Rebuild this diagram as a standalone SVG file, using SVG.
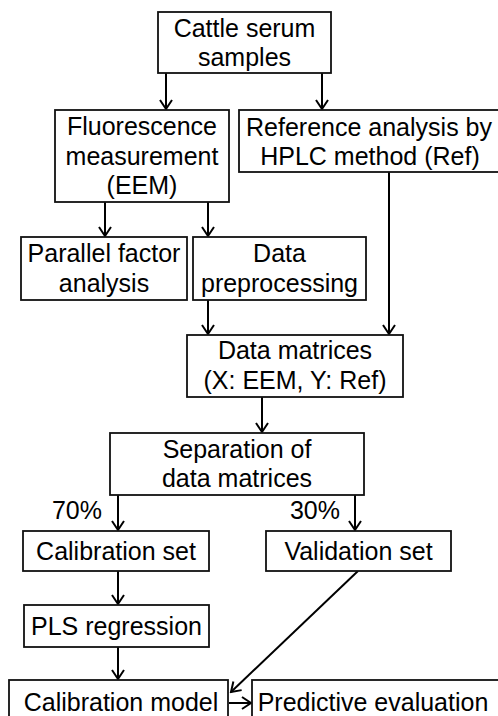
<svg xmlns="http://www.w3.org/2000/svg" width="498" height="716" viewBox="0 0 498 716">
<style>
.box{fill:#fff;stroke:#111;stroke-width:1.8}
.t{font-family:"Liberation Sans",Arial,sans-serif;font-size:25px;fill:#000;text-anchor:middle}
.c{stroke:#000;stroke-width:2;fill:none;marker-end:url(#ah)}
</style>
<defs>
<marker id="ah" viewBox="-11 -7 13 14" refX="0" refY="0" markerWidth="13" markerHeight="14" markerUnits="userSpaceOnUse" orient="auto">
<path d="M-9,-6 L0,0 L-9,6" fill="none" stroke="#000" stroke-width="2"/>
</marker>
</defs>
<rect width="498" height="716" fill="#fff"/>
<g id="connectors">
<line class="c" x1="166" y1="73" x2="166" y2="109"/>
<line class="c" x1="322" y1="73" x2="322" y2="109"/>
<line class="c" x1="105" y1="202" x2="105" y2="236"/>
<line class="c" x1="208" y1="202" x2="208" y2="236"/>
<line class="c" x1="208" y1="300" x2="208" y2="334"/>
<line class="c" x1="389" y1="172" x2="389" y2="334"/>
<line class="c" x1="262" y1="397" x2="262" y2="432"/>
<line class="c" x1="118" y1="495" x2="118" y2="530"/>
<line class="c" x1="355" y1="495" x2="355" y2="530"/>
<line class="c" x1="118" y1="571" x2="118" y2="604"/>
<line class="c" x1="118" y1="647" x2="118" y2="679"/>
<line class="c" x1="358" y1="571" x2="231" y2="692"/>
<line class="c" x1="229" y1="703" x2="251" y2="703"/>
</g>
<g id="n1"><rect class="box" x="158" y="12" width="173" height="61"/><text class="t" x="244.5" y="37">Cattle serum</text><text class="t" x="244.5" y="66">samples</text></g>
<g id="n2"><rect class="box" x="55" y="110" width="174" height="92"/><text class="t" x="142" y="135">Fluorescence</text><text class="t" x="142" y="164.5">measurement</text><text class="t" x="142" y="194">(EEM)</text></g>
<g id="n3"><rect class="box" x="239" y="110" width="262" height="62"/><text class="t" x="369" y="136">Reference analysis by</text><text class="t" x="370" y="165">HPLC method (Ref)</text></g>
<g id="n4"><rect class="box" x="21" y="237" width="166" height="63"/><text class="t" x="104" y="262">Parallel factor</text><text class="t" x="104" y="292">analysis</text></g>
<g id="n5"><rect class="box" x="193" y="237" width="173" height="63"/><text class="t" x="279.5" y="262">Data</text><text class="t" x="279.5" y="292">preprocessing</text></g>
<g id="n6"><rect class="box" x="187" y="335" width="216" height="62"/><text class="t" x="295" y="359">Data matrices</text><text class="t" x="295" y="389">(X: EEM, Y: Ref)</text></g>
<g id="n7"><rect class="box" x="110" y="433" width="254" height="62"/><text class="t" x="237" y="458">Separation of</text><text class="t" x="237" y="487">data matrices</text></g>
<g id="labels"><text class="t" x="77" y="519">70%</text><text class="t" x="315" y="519">30%</text></g>
<g id="n8"><rect class="box" x="23" y="531" width="186" height="40"/><text class="t" x="116" y="560">Calibration set</text></g>
<g id="n9"><rect class="box" x="266" y="531" width="185" height="40"/><text class="t" x="358.5" y="560">Validation set</text></g>
<g id="n10"><rect class="box" x="24" y="605" width="185" height="42"/><text class="t" x="116.5" y="635">PLS regression</text></g>
<g id="n11"><rect class="box" x="9" y="680" width="219" height="50"/><text class="t" x="121" y="711">Calibration model</text></g>
<g id="n12"><rect class="box" x="252" y="680" width="250" height="50"/><text class="t" x="373" y="711">Predictive evaluation</text></g>
</svg>
